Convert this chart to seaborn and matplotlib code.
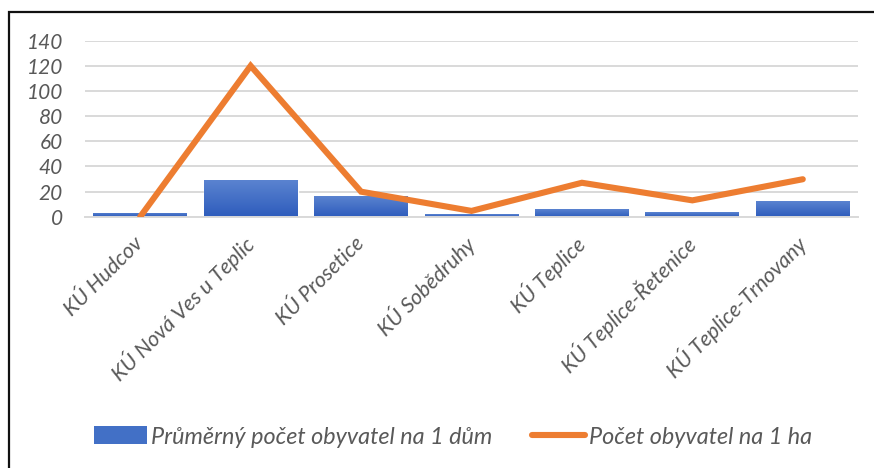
import numpy as np
import pandas as pd
import matplotlib
matplotlib.use("Agg")
import matplotlib.pyplot as plt
import matplotlib.transforms as mtransforms
import seaborn as sns
from matplotlib.patches import Patch, Rectangle
from matplotlib.lines import Line2D
from matplotlib.colors import LinearSegmentedColormap

# Data
areas = ["KÚ Hudcov", "KÚ Nová Ves u Teplic", "KÚ Prosetice", "KÚ Sobědruhy",
         "KÚ Teplice", "KÚ Teplice-Řetenice", "KÚ Teplice-Trnovany"]
per_house = [3.2, 29.2, 16.5, 2.1, 6.1, 3.7, 12.5]
per_ha = [0.0, 120.0, 19.9, 4.6, 27.0, 13.0, 29.8]
y_ticks = [0, 20, 40, 60, 80, 100, 120, 140]

bar_label = "Průměrný počet obyvatel na 1 dům"
line_label = "Počet obyvatel na 1 ha"

df = pd.DataFrame({"area": areas, "house": per_house, "ha": per_ha})
df["pos"] = np.arange(len(df))

sns.set_theme(style="white")
plt.rcParams["font.family"] = ["Lato", "DejaVu Sans"]
txt = "#595959"
blue = "#4270C6"
orange = "#ED7D31"

fig = plt.figure(figsize=(8.74, 4.68), dpi=100)
ax = fig.add_axes([85 / 874, 1 - 216.7 / 468, 773 / 874, 176 / 468])

sns.barplot(data=df, x="area", y="house", color=blue, saturation=1,
            width=0.85, ax=ax, zorder=2)

# gradient fill on the bars (lighter top, darker bottom)
grad = LinearSegmentedColormap.from_list("g", ["#2E5CBC", "#5A83D0"])
for p in list(ax.patches):
    x0, y0 = p.get_x(), p.get_y()
    w, h = p.get_width(), p.get_height()
    im = ax.imshow(np.linspace(0, 1, 50).reshape(-1, 1), cmap=grad, origin="lower",
                   extent=[x0, x0 + w, y0, y0 + h], aspect="auto", zorder=2.1)
    im.set_clip_path(p)

sns.lineplot(data=df, x="pos", y="ha", color=orange, linewidth=4.4,
             ax=ax, zorder=3, solid_capstyle="round", solid_joinstyle="miter")

ax.set_xlim(-0.5, len(areas) - 0.5)
ax.set_ylim(0, 140)
ax.set_yticks(y_ticks)
ax.set_xticks(df["pos"])
ax.set_xticklabels(areas, rotation=45, ha="right", va="center",
                   rotation_mode="anchor", style="italic", color=txt, fontsize=15.5)
off = mtransforms.ScaledTranslation(-7 / 100, 0, fig.dpi_scale_trans)
for lab in ax.get_xticklabels():
    lab.set_transform(lab.get_transform() + off)
ax.tick_params(axis="x", length=0, pad=17)
ax.tick_params(axis="y", length=0, pad=16, labelsize=15, labelcolor=txt)
for lab in ax.get_yticklabels():
    lab.set_style("italic")
ax.set_xlabel("")
ax.set_ylabel("")
ax.grid(axis="y", color="#D9D9D9", linewidth=1.4, zorder=0)
ax.set_axisbelow(True)
for s in ["top", "right", "left"]:
    ax.spines[s].set_visible(False)
ax.spines["bottom"].set_color("#D9D9D9")
ax.spines["bottom"].set_linewidth(1.4)

handles = [Patch(facecolor=blue, edgecolor="none", label=bar_label),
           Line2D([0], [0], color=orange, linewidth=4.4, solid_capstyle="round",
                  label=line_label)]
fig.legend(handles=handles, loc="center", bbox_to_anchor=(0.518, 1 - 437 / 468),
           ncol=2, frameon=False, handlelength=2.3, handleheight=0.8,
           handletextpad=0.15, columnspacing=1.7,
           prop={"style": "italic", "size": 16.8}, labelcolor=txt)

# outer frame of the chart area
fig.add_artist(Rectangle((8.5 / 874, -0.05), 1.0, 1 - 12 / 468 + 0.05,
                         transform=fig.transFigure, fill=False,
                         edgecolor="#111111", linewidth=1.6))

fig.savefig("out.png", dpi=100)
